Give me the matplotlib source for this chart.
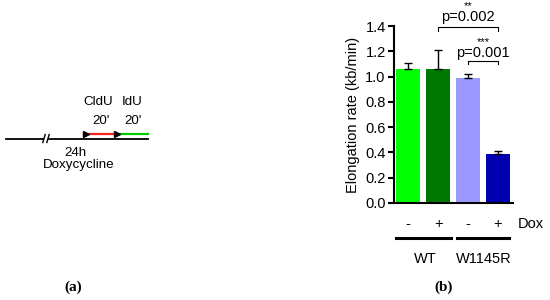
import matplotlib.pyplot as plt
import numpy as np

plt.rcParams['font.family'] = ['Liberation Sans', 'DejaVu Sans']

# data for panel (b)
conditions = ["-", "+", "-", "+"]
groups = ["WT", "W1145R"]
rates = [1.06, 1.06, 0.99, 0.39]
errors = [0.05, 0.15, 0.03, 0.02]
bar_colors = ["#00ff00", "#007800", "#9999ff", "#0000b0"]
yticks = [0.0, 0.2, 0.4, 0.6, 0.8, 1.0, 1.2, 1.4]

W, H = 550, 300
fs = 10.5
fig = plt.figure(figsize=(5.5, 3.0), dpi=100)

# overlay axes in pixel coordinates for panel (a) and labels
ov = fig.add_axes([0, 0, 1, 1])
ov.set_xlim(0, W)
ov.set_ylim(H, 0)
ov.axis('off')

# panel (a): labelling scheme
ov.plot([6, 43], [138.5, 138.5], color='black', lw=1.3)
ov.plot([49, 148], [138.5, 138.5], color='black', lw=1.3)
for xb in (44, 48):
    ov.plot([xb - 1.2, xb + 1.2], [142.5, 134.5], color='black', lw=1)
ov.plot([84, 115], [134, 134], color='#ff2020', lw=1.6)
ov.plot([115, 148], [134, 134], color='#00cc00', lw=1.6)
for xa in (86, 117):
    ov.plot([xa], [134], marker='>', color='black', ms=4.5)
fa = 9.6
ov.text(98, 102, "CldU", ha='center', va='center', fontsize=fa)
ov.text(132, 102, "IdU", ha='center', va='center', fontsize=fa)
ov.text(101, 121, "20'", ha='center', va='center', fontsize=fa)
ov.text(133, 121, "20'", ha='center', va='center', fontsize=fa)
ov.text(75, 153, "24h", ha='center', va='center', fontsize=fa)
ov.text(78.5, 165, "Doxycycline", ha='center', va='center', fontsize=fa)
ov.text(73, 287, "(a)", ha='center', va='center', fontsize=11,
        family='Liberation Serif', fontweight='bold')
ov.text(444, 287, "(b)", ha='center', va='center', fontsize=11,
        family='Liberation Serif', fontweight='bold')

# panel (b): bar chart
ax = fig.add_axes([394 / W, 1 - 203 / H, (513 - 394) / W, (203 - 26) / H])
x = np.arange(len(rates))
ax.bar(x, rates, width=0.81, color=bar_colors,
       yerr=[np.zeros(len(errors)), errors], capsize=3,
       error_kw=dict(ecolor='black', elinewidth=1, capthick=1))
ax.set_xlim(-0.47, 3.5)
ax.set_ylim(0, 1.4)
ax.set_yticks(yticks)
ax.set_yticklabels(["%.1f" % v for v in yticks], fontsize=fs)
ax.set_xticks([])
for s in ('top', 'right'):
    ax.spines[s].set_visible(False)
for s in ('left', 'bottom'):
    ax.spines[s].set_linewidth(1.5)
ax.tick_params(axis='y', width=1.5, length=4, pad=2)
ax.set_ylabel("Elongation rate (kb/min)", fontsize=fs, labelpad=4)

# significance brackets
def bracket(x1, x2, y, drop, label, ytext, stars, ystar):
    ax.plot([x1, x1, x2, x2], [y - drop, y, y, y - drop], color='black',
            lw=0.8, clip_on=False)
    ax.text((x1 + x2) / 2, ytext, label, ha='center', va='center',
            fontsize=fs, clip_on=False)
    ax.text((x1 + x2) / 2, ystar, stars, ha='center', va='baseline',
            fontsize=8, clip_on=False)

bracket(1, 3, 1.392, 0.03, "p=0.002", 1.47, "**", 1.53)
bracket(2, 3, 1.123, 0.025, "p=0.001", 1.186, "***", 1.25)

# condition labels and groups below axis
for xi, c in zip(x, conditions):
    ax.text(xi, -0.165, c, ha='center', va='center', fontsize=fs, clip_on=False)
ax.text(3.67, -0.165, "Dox", ha='left', va='center', fontsize=fs, clip_on=False)
ax.plot([-0.4, 1.42], [-0.277, -0.277], color='black', lw=2.2, clip_on=False)
ax.plot([1.62, 3.37], [-0.277, -0.277], color='black', lw=2.2, clip_on=False)
ax.text(0.57, -0.44, groups[0], ha='center', va='center', fontsize=fs, clip_on=False)
ax.text(2.53, -0.44, groups[1], ha='center', va='center', fontsize=fs, clip_on=False)

fig.savefig("out.png", dpi=100)
